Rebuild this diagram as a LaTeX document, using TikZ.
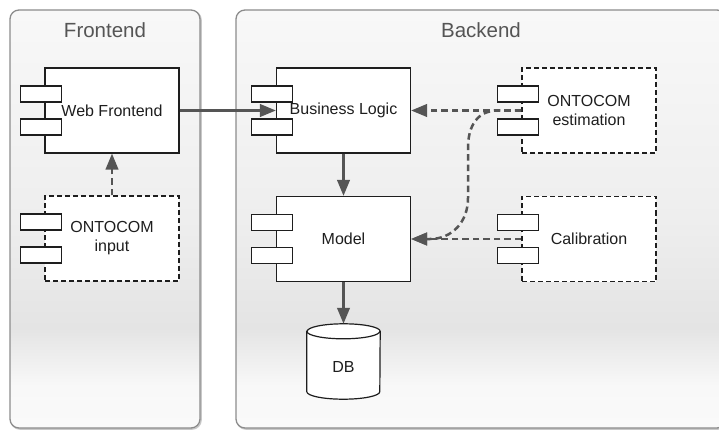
\documentclass[tikz,border=0pt]{standalone}
\usepackage{fontspec}
\setmainfont{Liberation Sans}
\usetikzlibrary{arrows.meta}
\definecolor{ptop}{HTML}{F8F8F8}
\definecolor{pmid}{HTML}{EEEEEE}
\definecolor{pdark}{HTML}{E4E4E4}
\definecolor{pbot}{HTML}{FAFAFA}
\definecolor{pborder}{HTML}{8C8C8C}
\definecolor{pshadow}{HTML}{C8C8C8}
\definecolor{ttl}{HTML}{555555}
\definecolor{ink}{HTML}{1E1E1E}
\definecolor{conncol}{HTML}{555555}
\pgfdeclareverticalshading{panelshade}{100bp}{color(0bp)=(pbot); color(25bp)=(pbot); color(30bp)=(ptop); color(37bp)=(pdark); color(50bp)=(pmid); color(75bp)=(ptop); color(100bp)=(ptop)}
\begin{document}
\begin{tikzpicture}[x=1pt,y=-1pt,
  panel/.style={rounded corners=9pt, shading=panelshade, draw=pborder, line width=1.3pt},
  panelshadow/.style={rounded corners=9pt, draw=pshadow, line width=1.6pt},
  ttlnode/.style={font=\fontsize{20.5}{24}\selectfont, text=ttl, inner sep=0pt},
  comp/.style={draw=ink, fill=white, line width=1.2pt, minimum width=134pt, minimum height=85pt, inner sep=0pt, align=center, text=ink, font=\fontsize{16}{19}\selectfont},
  dcomp/.style={comp, dash pattern=on 5pt off 3pt},
  port/.style={draw=ink, fill=white, line width=1.1pt, minimum width=41pt, minimum height=16pt, inner sep=0pt, solid},
  conn/.style={draw=conncol, line width=2.5pt, -{Triangle[length=16pt,width=12.5pt]}},
  dconn/.style={conn, dash pattern=on 6.5pt off 4pt},
  lbl/.style={text=ink, font=\fontsize{16}{19}\selectfont, inner sep=0pt}
]
\useasboundingbox (0,0) rectangle (719,430);
\clip (0,0) rectangle (719,430);

% panels
\draw[panelshadow] (11,11) rectangle (201,429);
\draw[panel] (10,10) rectangle (200,428);
\draw[panelshadow] (237,11) rectangle (727,429);
\draw[panel] (236,10) rectangle (726,428);
\node[ttlnode] (tfront) at (105,30.5) {Frontend};
\node[ttlnode] (tback) at (481,30.5) {Backend};

% components
\node[comp] (wf) at (112,110.5) {Web Frontend};
\node[dcomp] (oi) at (112,238.5) {ONTOCOM\\input};
\node[comp] (bl) at (343.5,110.5) {Business Logic};
\node[comp] (md) at (343.5,239) {Model};
\node[dcomp] (oe) at (589,110.5) {ONTOCOM\\estimation};
\node[dcomp] (cal) at (589,239) {Calibration};

\foreach \c in {wf,oi,bl,md,oe,cal}{
  \node[port] at ([xshift=-3.5pt,yshift=16.5pt]\c.west) {};
  \node[port] at ([xshift=-3.5pt,yshift=-16.5pt]\c.west) {};
}

% database
\node[minimum width=73pt, minimum height=75pt, inner sep=0pt] (db) at (343.5,361.5) {};
\draw[ink, fill=white, line width=1.2pt]
  ([yshift=-7.5pt]db.north west) -- ([yshift=7.5pt]db.south west)
  arc[start angle=180, end angle=360, x radius=36.5pt, y radius=7.5pt]
  -- ([yshift=-7.5pt]db.north east)
  arc[start angle=0, end angle=180, x radius=36.5pt, y radius=7.5pt] -- cycle;
\draw[ink, line width=1.2pt] ([yshift=-7.5pt]db.north west)
  arc[start angle=180, end angle=360, x radius=36.5pt, y radius=7.5pt];
\node[lbl] (dbl) at ([yshift=-5pt]db.center) {DB};

% connectors
\draw[conn] (wf.east) -- (bl.west);
\draw[dconn] (oi.north) -- (wf.south);
\draw[conn] (bl.south) -- (md.north);
\draw[conn] (md.south) -- (db.north);
\draw[dconn] (oe.west) -- (bl.east);
\draw[dconn] (cal.west) -- (md.east);
\draw[dconn] (oe.west) -- (498,110.5) .. controls (478,110.5) and (468,125) .. (468,148)
  -- (468,198) .. controls (468,222) and (452,239) .. (430,239) -- (md.east);
\end{tikzpicture}
\end{document}
